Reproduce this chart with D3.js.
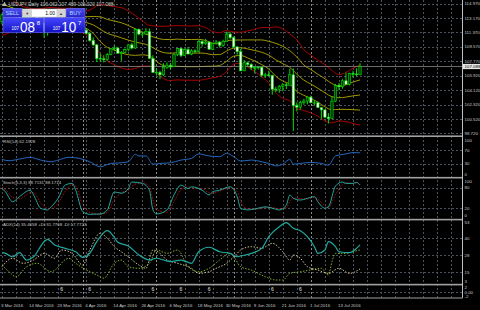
<!DOCTYPE html>
<html>
<head>
<meta charset="utf-8">
<script src="https://cdn.jsdelivr.net/npm/d3@7"></script>
<style>
  body { margin: 0; background: #000; }
  svg { display: block; }
</style>
</head>
<body>
<div id="chart"></div>
<script>
// USDJPY daily, bars 0..102 (early March to 21 Jul 2016)
const openP = [112.70,113.55,113.95,113.75,113.80,113.40,112.65,113.25,113.20,113.80,113.80,113.15,112.55,111.50,111.55,111.90,112.35,112.40,113.00,113.00,113.45,112.45,112.35,112.55,111.65,111.25,110.35,109.80,108.10,108.05,107.95,108.60,109.30,109.40,108.75,108.85,109.20,109.80,109.40,111.75,111.15,111.15,111.45,108.10,106.35,106.35,106.05,107.00,107.25,107.10,108.60,109.35,108.45,109.20,108.65,109.05,109.00,110.20,109.95,110.15,109.25,109.95,110.15,109.75,110.25,111.15,110.70,109.55,108.95,106.55,107.55,107.35,106.95,106.95,107.00,106.00,106.05,105.95,104.25,104.20,104.60,104.80,104.75,106.05,102.20,102.00,102.60,102.75,103.25,102.55,102.55,101.95,101.65,100.75,100.55,102.75,104.70,104.55,105.30,104.85,106.20,106.15,106.06];
const highP = [113.75,114.20,114.15,114.55,113.95,113.50,113.35,114.00,113.85,114.10,113.95,113.65,112.55,111.85,112.20,112.55,112.65,113.25,113.15,113.70,113.80,112.95,113.05,112.80,111.90,111.35,110.75,109.90,108.70,108.50,108.75,109.40,109.75,109.55,109.00,109.35,109.90,110.05,111.85,111.85,111.45,111.90,111.85,108.50,106.80,106.55,107.50,107.60,107.55,108.75,109.40,109.40,109.35,109.55,109.25,109.25,110.35,110.40,110.55,110.25,110.05,110.40,110.25,110.45,111.45,111.40,110.85,109.60,109.30,107.90,107.70,107.50,107.15,107.15,107.05,106.30,106.55,106.05,104.55,104.75,105.00,105.05,106.80,106.85,102.60,102.80,103.05,103.30,103.45,102.85,102.70,102.00,101.75,101.25,103.35,104.90,105.00,105.50,106.30,106.30,106.55,106.85,107.49];
const lowP = [112.35,113.25,113.20,113.35,112.95,112.20,112.55,112.60,112.90,113.45,112.95,111.90,110.65,110.95,111.35,111.60,112.00,112.25,112.85,113.00,112.45,112.05,112.25,111.55,111.10,110.20,109.65,107.65,107.65,107.60,107.80,108.50,109.00,108.70,107.80,108.75,109.00,109.25,109.30,111.00,110.70,111.05,108.00,106.30,105.95,105.50,105.90,106.80,106.70,107.05,108.40,108.25,108.40,108.70,108.50,108.75,108.90,109.55,109.80,109.20,109.15,109.80,109.45,109.55,110.25,110.50,109.45,108.55,106.50,106.50,107.10,106.65,106.25,106.70,105.75,105.65,105.90,103.55,103.90,103.80,104.00,104.25,104.70,99.00,101.45,101.70,102.30,102.35,102.50,102.20,101.90,100.55,100.60,99.95,100.50,102.65,104.10,104.30,104.80,104.70,105.70,105.90,106.00];
const closeP = [113.55,113.95,113.75,113.80,113.40,112.65,113.25,113.20,113.80,113.80,113.15,112.55,111.50,111.55,111.90,112.35,112.40,113.00,113.00,113.45,112.45,112.35,112.55,111.65,111.25,110.35,109.80,108.10,108.05,107.95,108.60,109.30,109.40,108.75,108.85,109.20,109.80,109.40,111.75,111.15,111.15,111.45,108.10,106.35,106.35,106.05,107.00,107.25,107.10,108.60,109.35,108.45,109.20,108.65,109.05,109.00,110.20,109.95,110.15,109.25,109.95,110.15,109.75,110.25,111.15,110.70,109.55,108.95,106.55,107.55,107.35,106.95,106.95,107.00,106.00,106.05,105.95,104.25,104.20,104.60,104.80,104.75,106.05,102.20,102.00,102.60,102.75,103.25,102.55,102.55,101.95,101.65,100.75,100.55,102.75,104.70,104.55,105.30,104.85,106.20,106.15,106.06,107.09];
const bidPrice = 107.088;

// band lines read every second bar
const bbUp2 = [116.20,115.70,115.10,114.60,114.40,114.30,114.40,114.50,114.40,114.39,114.41,114.17,114.05,114.42,114.86,114.74,114.59,114.46,114.05,113.47,112.81,112.24,112.15,112.12,112.17,112.22,112.17,112.17,112.20,111.97,111.47,111.33,111.59,111.41,111.38,111.55,111.74,111.97,111.97,112.05,111.80,111.16,110.42,109.18,108.51,107.87,107.32,106.59,106.07,106.34,106.87,107.30];
const bbUp1 = [114.90,114.60,114.25,113.95,113.85,113.80,113.75,113.75,113.65,113.67,113.68,113.49,113.32,113.36,113.31,112.99,112.78,112.57,112.22,111.81,111.39,110.97,110.67,110.48,110.46,110.52,110.47,110.47,110.49,110.35,110.02,109.96,110.31,110.40,110.41,110.42,110.42,110.42,110.24,109.99,109.62,109.07,108.27,107.28,106.70,106.12,105.56,104.95,104.62,104.80,105.14,105.41];
const bbMid = [113.60,113.50,113.40,113.30,113.30,113.30,113.10,113.00,112.90,112.95,112.95,112.81,112.59,112.30,111.76,111.24,110.97,110.68,110.39,110.15,109.97,109.70,109.19,108.84,108.75,108.82,108.77,108.77,108.78,108.73,108.57,108.59,109.03,109.39,109.44,109.29,109.10,108.87,108.51,107.93,107.44,106.98,106.12,105.38,104.89,104.37,103.80,103.31,103.17,103.26,103.41,103.52];
const bbLo1 = [112.30,112.40,112.55,112.65,112.75,112.80,112.45,112.25,112.15,112.23,112.22,112.13,111.86,111.24,110.21,109.49,109.16,108.79,108.56,108.49,108.55,108.43,107.71,107.20,107.04,107.12,107.07,107.07,107.07,107.11,107.12,107.22,107.75,108.38,108.47,108.16,107.78,107.32,106.78,105.87,105.26,104.89,103.97,103.48,103.08,102.62,102.04,101.67,101.72,101.72,101.68,101.63];
const bbLo2 = [111.00,111.30,111.70,112.00,112.20,112.30,111.80,111.50,111.40,111.51,111.49,111.45,111.13,110.18,108.66,107.74,107.35,106.90,106.73,106.83,107.13,107.16,106.23,105.56,105.33,105.42,105.37,105.37,105.36,105.49,105.67,105.85,106.47,107.37,107.50,107.03,106.46,105.77,105.05,103.81,103.08,102.80,101.82,101.58,101.27,100.87,100.28,100.03,100.27,100.18,99.95,99.74];

const rsiBars = [0,2,5,8,11,14,16,19,22,25,28,31,34,36,38,39,41,43,45,48,51,54,56,59,62,64,66,68,71,74,76,78,80,82,83,85,88,91,93,95,98,100,102];
const rsiVals = [43,39,44,49,41,36,41,49,46,36,21,31,33,36,58,53,53,29,31,33,41,46,59,53,51,61,51,38,41,36,31,24,29,43,29,31,34,31,26,53,59,63,62.19];

const stoBars = [0,1,3,5,8,9,11,13,14,16,18,20,21,23,25,28,30,32,34,36,37,40,42,43,44,47,49,51,53,54,57,59,60,62,65,67,68,70,73,75,77,79,81,82,83,85,87,89,90,92,93,95,97,98,100,101,102];
const stoMain = [78,68,39,54,73,59,20,15,24,49,88,93,73,10,2,3,15,68,64,78,97,93,73,15,3,15,59,88,78,83,73,59,68,73,83,54,20,15,20,24,20,15,29,59,49,44,49,54,39,20,24,85,97,93,93,96,88.71];
const stoSignal = [82,75,52,48,65,66,35,20,19,35,70,90,85,30,8,2,8,45,66,72,85,95,85,45,15,8,40,75,82,80,78,65,64,70,80,70,40,18,18,22,22,18,22,40,50,48,47,52,46,28,22,60,90,95,93,94,88.17];

const adxBars = [0,1,3,5,7,9,12,13,15,18,21,23,25,27,30,32,33,36,39,42,44,46,48,51,54,56,59,62,65,67,68,71,74,76,79,81,83,85,87,89,90,92,93,95,96,99,101,102];
const adxVals = [29.7,29.2,26.7,29.7,24.3,26.7,37.8,39.5,35.4,32.9,30.4,26.3,29.3,37.8,45.9,41,37.3,34.6,28,24.3,25.6,24.3,23.1,24.3,21.9,30.4,33.7,30.4,29.2,26.7,27.3,29.2,32.9,41.5,48.8,51.8,47.6,45.9,41.5,34.1,29.2,31.7,37.8,34.1,30.4,29.7,32.9,35.47];
const pdiBars = [0,2,4,7,10,14,19,21,24,27,29,32,34,36,39,42,44,47,50,53,56,59,62,65,68,71,75,78,80,82,85,88,91,93,94,95,98,100,102];
const pdiVals = [20.6,15.7,12,19.4,21.9,15.7,25.6,21.9,17,13.3,10.9,21.9,24.3,19.4,18.2,21.9,31.7,29.2,31.7,19.4,15.7,18.2,24.3,29.2,19.4,17,12,9.6,9.6,14.5,15.7,17,18.2,13.3,23,29.2,29.2,30.4,31.78];
const mdiBars = [0,3,6,9,12,15,17,20,23,25,28,30,32,34,36,39,41,43,45,47,50,54,56,59,61,64,67,68,71,74,77,80,82,83,85,87,90,93,96,99,102];
const mdiVals = [19.4,25.6,21.9,24.3,29.2,25.6,31.7,29.2,20.6,31.7,44,40.3,34.1,30.4,26.7,20.6,18.2,31.7,29.2,24.3,21.9,18.2,14.5,15.7,18.2,21.9,29.2,31.7,34.1,32.9,36.6,30.4,24.3,28,25.6,19.4,17,14.5,18.2,14.5,17.77];

const markBars = [17,25,43,51,59,77,85];

const priceTicks = ["114.970","113.170","111.370","109.570","107.770","105.920","104.120","102.320","100.520","98.720"];
const rsiTicks = [100, 70, 30, 0];
const stoTicks = [100, 80, 20, 0];
const adxTicks = ["53","40","28","15","3"];
const adxTickVals = [53, 40.5, 28, 15.5, 4.5];
const extTicks = ["2","0.00","-2"];
const dateTicks = ["3 Mar 2016","14 Mar 2016","23 Mar 2016","4 Apr 2016","14 Apr 2016","26 Apr 2016","6 May 2016","18 May 2016","30 May 2016","9 Jun 2016","21 Jun 2016","1 Jul 2016","13 Jul 2016"];
const monthStarts = [23, 44, 66, 88];

const W = 480, H = 310, R = 462;
const font = "'Liberation Sans', Arial, sans-serif";
const txtCol = "#c8c8c8";
const gridCol = "#4b545c";

const svg = d3.select("#chart").append("svg")
    .attr("width", W).attr("height", H)
    .style("background", "#000")
    .attr("font-family", font);

const x = d3.scaleLinear().domain([0, 131]).range([2, 2 + 3.51 * 131]);

const panels = {
  main: [1, 135.5],
  rsi: [137, 177],
  sto: [178.5, 219],
  adx: [220.5, 284],
  ext: [285.5, 297.5]
};

const yMain = d3.scaleLinear().domain([98.72, 114.97]).range([133.3, 3.6]);
const yRsi = d3.scaleLinear().domain([0, 100]).range([174, 140]);
const ySto = d3.scaleLinear().domain([0, 100]).range([215, 181]);
const yAdx = d3.scaleLinear().domain([3, 53]).range([289, 221]);
const yExt = d3.scaleLinear().domain([-2, 2]).range([296.5, 287.5]);

// clip paths, one per panel
const defs = svg.append("defs");
Object.entries(panels).forEach(([k, p]) => {
  defs.append("clipPath").attr("id", "clip-" + k)
    .append("rect").attr("x", 0).attr("y", p[0]).attr("width", R).attr("height", p[1] - p[0]);
});

// vertical grid
const gridIdx = d3.range(0, 132, 4);
svg.append("g").selectAll("line").data(gridIdx).join("line")
    .attr("x1", d => Math.round(x(d)) + 0.5).attr("x2", d => Math.round(x(d)) + 0.5)
    .attr("y1", 0).attr("y2", 297.5)
    .attr("stroke", gridCol).attr("stroke-width", 1)
    .attr("stroke-dasharray", "2,2");

// month separators
svg.append("g").selectAll("line").data(monthStarts).join("line")
    .attr("x1", d => Math.round(x(d)) + 0.5).attr("x2", d => Math.round(x(d)) + 0.5)
    .attr("y1", 0).attr("y2", 297.5)
    .attr("stroke", "#8c8c8c").attr("stroke-width", 1)
    .attr("stroke-dasharray", "2,2");

// horizontal grid helper
function hGrid(vals, y) {
  svg.append("g").selectAll("line").data(vals).join("line")
      .attr("x1", 0).attr("x2", R)
      .attr("y1", d => Math.round(y(d)) + 0.5).attr("y2", d => Math.round(y(d)) + 0.5)
      .attr("stroke", gridCol).attr("stroke-width", 1)
      .attr("stroke-dasharray", "2,2");
}
hGrid(priceTicks.map(Number), yMain);
hGrid([70, 30], yRsi);
hGrid([80, 20], ySto);
hGrid(adxTickVals.slice(1, 4), yAdx);
hGrid([0], yExt);

// --- main chart: bands
const mainG = svg.append("g").attr("clip-path", "url(#clip-main)");
const bbIdx = d3.range(0, 103, 2);
const bandLine = d3.line().x(d => x(d[0])).y(d => yMain(d[1])).curve(d3.curveMonotoneX);
[[bbUp2, "#a80000"], [bbLo2, "#a80000"], [bbUp1, "#a09a00"], [bbMid, "#a09a00"], [bbLo1, "#a09a00"]]
  .forEach(([arr, col]) => {
    mainG.append("path")
        .datum(arr.map((v, i) => [bbIdx[i], v]))
        .attr("d", bandLine)
        .attr("fill", "none").attr("stroke", col).attr("stroke-width", 1);
  });

// bid line
mainG.append("line")
    .attr("x1", 0).attr("x2", R)
    .attr("y1", yMain(bidPrice)).attr("y2", yMain(bidPrice))
    .attr("stroke", "#9a9a9a").attr("stroke-width", 0.7);

// candles
const bars = d3.range(closeP.length);
mainG.append("g").selectAll("line").data(bars).join("line")
    .attr("x1", i => x(i)).attr("x2", i => x(i))
    .attr("y1", i => yMain(highP[i])).attr("y2", i => yMain(lowP[i]))
    .attr("stroke", "#00e000").attr("stroke-width", 1);
mainG.append("g").selectAll("rect").data(bars).join("rect")
    .attr("x", i => x(i) - 1.2).attr("width", 2.4)
    .attr("y", i => yMain(Math.max(openP[i], closeP[i])))
    .attr("height", i => Math.max(0.6, Math.abs(yMain(openP[i]) - yMain(closeP[i]))))
    .attr("fill", i => closeP[i] >= openP[i] ? "#003a00" : "#f0fff0")
    .attr("stroke", "#00e000").attr("stroke-width", 0.6);

// --- oscillators
function drawSeries(panel, y, xs, vs, col, w, dash) {
  const line = d3.line().x(d => x(d[0])).y(d => y(d[1])).curve(d3.curveMonotoneX);
  svg.append("path")
      .attr("clip-path", "url(#clip-" + panel + ")")
      .datum(xs.map((b, i) => [b, vs[i]]))
      .attr("d", line)
      .attr("fill", "none").attr("stroke", col).attr("stroke-width", w)
      .attr("stroke-dasharray", dash || null);
}
drawSeries("rsi", yRsi, rsiBars, rsiVals, "#2468c0", 1);
drawSeries("sto", ySto, stoBars, stoSignal, "#c01010", 0.9, "1.5,1.5");
drawSeries("sto", ySto, stoBars, stoMain, "#20a8a0", 1);
drawSeries("adx", yAdx, pdiBars, pdiVals, "#8fbf30", 0.9, "1.5,1.5");
drawSeries("adx", yAdx, mdiBars, mdiVals, "#e8d4a8", 0.9, "1.5,1.5");
drawSeries("adx", yAdx, adxBars, adxVals, "#20a8a0", 1.2);

// bottom panel marks
svg.append("g").selectAll("text").data(markBars).join("text")
    .attr("x", b => x(b)).attr("y", 291)
    .attr("text-anchor", "middle")
    .attr("font-size", 5).attr("fill", "#e6e6e6")
    .text("6");

// panel separators
[136.2, 177.7, 219.6, 284.6].forEach(yy => {
  svg.append("rect").attr("x", 0).attr("y", yy - 0.8).attr("width", R).attr("height", 1.6)
      .attr("fill", "#a0a0a0");
});
// frame
svg.append("line").attr("x1", R + 0.5).attr("x2", R + 0.5).attr("y1", 0).attr("y2", 298)
    .attr("stroke", "#c0c0c0").attr("stroke-width", 1);
svg.append("line").attr("x1", 0).attr("x2", R + 0.5).attr("y1", 298).attr("y2", 298)
    .attr("stroke", "#a0a0a0").attr("stroke-width", 1);

// right axis labels
function axisLabels(labels, ys) {
  svg.append("g").selectAll("text").data(labels).join("text")
      .attr("x", R + 2.5).attr("y", (d, i) => ys[i] + 1.6)
      .attr("font-size", 4.4).attr("fill", txtCol)
      .text(d => d);
}
axisLabels(priceTicks, priceTicks.map(p => yMain(+p)));
axisLabels(rsiTicks, rsiTicks.map(v => yRsi(v)));
axisLabels(stoTicks, stoTicks.map(v => ySto(v)));
axisLabels(adxTicks, [222, 238.5, 255.5, 272, 281]);
axisLabels(extTicks, [287.5, 292.5, 296.3]);

// bid price box
svg.append("rect").attr("x", R + 1).attr("y", yMain(bidPrice) - 2.6).attr("width", 17.5).attr("height", 5.2)
    .attr("fill", "#e8e8e8");
svg.append("text").attr("x", R + 2.5).attr("y", yMain(bidPrice) + 1.6)
    .attr("font-size", 4.4).attr("fill", "#000").text(bidPrice.toFixed(3));

// date labels
svg.append("g").selectAll("text").data(dateTicks).join("text")
    .attr("x", (d, i) => x(i * 8) - 1).attr("y", 306.5)
    .attr("font-size", 4.4).attr("fill", txtCol)
    .text(d => d);

// titles
svg.append("path").attr("d", "M2,6 L4.5,1.8 L7,6 Z").attr("fill", "#b0b0b0");
svg.append("text").attr("x", 8.5).attr("y", 5.6).attr("font-size", 4.8).attr("fill", txtCol)
    .text("USDJPY,Daily  106.062 107.489 106.020 107.088");
svg.append("text").attr("x", 3).attr("y", 143).attr("font-size", 4.4).attr("fill", txtCol)
    .text("RSI(14) 62.1928");
svg.append("text").attr("x", 3).attr("y", 184.3).attr("font-size", 4.4).attr("fill", txtCol)
    .text("Stoch(5,3,3) 88.7131 88.1714");
svg.append("text").attr("x", 3).attr("y", 226).attr("font-size", 4.4).attr("fill", txtCol)
    .text("ADX(14) 35.4658 +DI:31.7768 -DI:17.7723");

// one-click trading panel
const grad = defs.append("linearGradient").attr("id", "blueBox").attr("x1", 0).attr("y1", 0).attr("x2", 0).attr("y2", 1);
grad.append("stop").attr("offset", "0%").attr("stop-color", "#4646ff");
grad.append("stop").attr("offset", "100%").attr("stop-color", "#1010c0");
const btnGrad = defs.append("linearGradient").attr("id", "blueBtn").attr("x1", 0).attr("y1", 0).attr("x2", 0).attr("y2", 1);
btnGrad.append("stop").attr("offset", "0%").attr("stop-color", "#5050f0");
btnGrad.append("stop").attr("offset", "100%").attr("stop-color", "#2424c8");

const tp = svg.append("g");
tp.append("rect").attr("x", 3).attr("y", 8.3).attr("width", 19).attr("height", 9.2)
    .attr("fill", "url(#blueBtn)").attr("stroke", "#7878ff").attr("stroke-width", 0.5);
tp.append("text").attr("x", 12.3).attr("y", 14.9).attr("text-anchor", "middle")
    .attr("font-size", 5.6).attr("fill", "#a8d8ff").text("SELL");
tp.append("rect").attr("x", 66).attr("y", 8.3).attr("width", 19).attr("height", 9.2)
    .attr("fill", "url(#blueBtn)").attr("stroke", "#7878ff").attr("stroke-width", 0.5);
tp.append("text").attr("x", 75.3).attr("y", 14.9).attr("text-anchor", "middle")
    .attr("font-size", 5.6).attr("fill", "#a8d8ff").text("BUY");
tp.append("rect").attr("x", 22.5).attr("y", 9).attr("width", 43).attr("height", 8.2)
    .attr("fill", "#d4d4d4").attr("stroke", "#f4f4f4").attr("stroke-width", 0.5);
tp.append("rect").attr("x", 32).attr("y", 9.6).attr("width", 24.5).attr("height", 7)
    .attr("fill", "#ffffff");
tp.append("text").attr("x", 27.2).attr("y", 14.6).attr("text-anchor", "middle")
    .attr("font-size", 4).attr("fill", "#404040").text("\u25BC");
tp.append("text").attr("x", 61).attr("y", 14.6).attr("text-anchor", "middle")
    .attr("font-size", 4).attr("fill", "#404040").text("\u25B2");
tp.append("text").attr("x", 55).attr("y", 15).attr("text-anchor", "end")
    .attr("font-size", 5).attr("fill", "#000").text("1.00");

[[3, "107", "08", "8"], [44.3, "107", "10", "7"]].forEach(([bx, a, b, c]) => {
  tp.append("rect").attr("x", bx).attr("y", 17.8).attr("width", 40.7).attr("height", 15)
      .attr("fill", "url(#blueBox)").attr("stroke", "#8080ff").attr("stroke-width", 0.5);
  tp.append("text").attr("x", bx + 8.5).attr("y", 30).attr("font-size", 6)
      .attr("textLength", 7.5).attr("lengthAdjust", "spacingAndGlyphs")
      .attr("fill", "#ffffff").text(a);
  tp.append("text").attr("x", bx + 17).attr("y", 31.7).attr("font-size", 15)
      .attr("textLength", 15).attr("lengthAdjust", "spacingAndGlyphs")
      .attr("fill", "#ffffff").text(b);
  tp.append("text").attr("x", bx + 33.7).attr("y", 24.6).attr("font-size", 6)
      .attr("fill", "#ffffff").text(c);
});
</script>
</body>
</html>
